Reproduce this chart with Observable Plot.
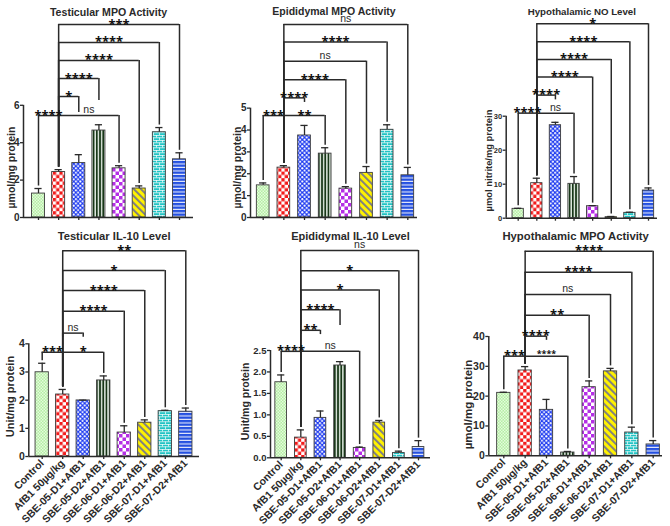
<!DOCTYPE html>
<html>
<head>
<meta charset="utf-8">
<script src="https://cdn.jsdelivr.net/npm/d3@7"></script>
<script src="https://cdn.jsdelivr.net/npm/@observablehq/plot@0.6"></script>
<style>
  html, body { margin: 0; padding: 0; background: #fff; }
  #wrap { position: relative; width: 670px; height: 526px; overflow: hidden; background: #fff; }
  #wrap svg { position: absolute; }
</style>
</head>
<body>
<svg width="0" height="0" style="position:absolute">
  <defs>
    <pattern id="pat0" width="3" height="3" patternUnits="userSpaceOnUse">
      <rect width="3" height="3" fill="#b4eea4"/>
      <rect width="1.5" height="1.5" fill="#e4fbdc"/>
      <rect x="1.5" y="1.5" width="1.5" height="1.5" fill="#e4fbdc"/>
    </pattern>
    <pattern id="pat1" width="6.6" height="6.6" patternUnits="userSpaceOnUse">
      <rect width="6.6" height="6.6" fill="#ffffff"/>
      <rect width="3.3" height="3.3" fill="#f21a1a"/>
      <rect x="3.3" y="3.3" width="3.3" height="3.3" fill="#f21a1a"/>
    </pattern>
    <pattern id="pat2" width="4.4" height="4.4" patternUnits="userSpaceOnUse">
      <rect width="4.4" height="4.4" fill="#1f3cf0"/>
      <circle cx="1.1" cy="1.1" r="1.05" fill="#ffffff"/>
      <circle cx="3.3" cy="3.3" r="1.05" fill="#ffffff"/>
    </pattern>
    <pattern id="pat3" width="3.2" height="4" patternUnits="userSpaceOnUse">
      <rect width="3.2" height="4" fill="#dfe9df"/>
      <rect width="1.7" height="4" fill="#173617"/>
    </pattern>
    <pattern id="pat4" width="7" height="7" patternUnits="userSpaceOnUse">
      <rect width="7" height="7" fill="#ffffff"/>
      <rect width="3.5" height="3.5" fill="#b52ee6"/>
      <rect x="3.5" y="3.5" width="3.5" height="3.5" fill="#b52ee6"/>
    </pattern>
    <pattern id="pat5" width="5" height="5" patternUnits="userSpaceOnUse" patternTransform="rotate(-45)">
      <rect width="5" height="5" fill="#fff200"/>
      <rect width="1.9" height="5" fill="#7c7c86"/>
    </pattern>
    <pattern id="pat6" width="6" height="5" patternUnits="userSpaceOnUse">
      <rect width="6" height="5" fill="#22c4c4"/>
      <rect y="0" width="6" height="0.7" fill="#ffffff"/>
      <rect y="2.5" width="6" height="0.7" fill="#ffffff"/>
      <rect x="0" y="0" width="0.7" height="2.5" fill="#ffffff"/>
      <rect x="3" y="2.5" width="0.7" height="2.5" fill="#ffffff"/>
    </pattern>
    <pattern id="pat7" width="4" height="3.5" patternUnits="userSpaceOnUse">
      <rect width="4" height="3.5" fill="#2450e0"/>
      <rect y="2.4" width="4" height="1" fill="#ffffff"/>
    </pattern>
  </defs>
</svg>
<div id="wrap"></div>
<script>
// ---------------- DATA ----------------
const groups = ["Control", "AfB1 50µg/kg", "SBE-05-D1+AfB1", "SBE-05-D2+AfB1",
                "SBE-06-D1+AfB1", "SBE-06-D2+AfB1", "SBE-07-D1+AfB1", "SBE-07-D2+AfB1"];

const titles = ["Testicular MPO Activity", "Epididymal MPO Activity", "Hypothalamic NO Level",
                "Testicular IL-10 Level", "Epididymal IL-10 Level", "Hypothalamic MPO Activity"];

const yTitles = ["µmol/mg protein", "µmol/mg protein", "µmol nitrite/mg protein",
                 "Unit/mg protein", "Unit/mg protein", "µmol/mg protein"];

// means and SEM per panel
const testicularMPO     = [1.28, 2.43, 2.91, 4.65, 2.63, 1.55, 4.56, 3.11];
const testicularMPOSem  = [0.27, 0.13, 0.45, 0.31, 0.14, 0.14, 0.25, 0.35];
const epididymalMPO     = [1.47, 2.28, 3.75, 2.92, 1.32, 2.04, 4.01, 1.93];
const epididymalMPOSem  = [0.11, 0.09, 0.46, 0.27, 0.09, 0.29, 0.23, 0.36];
const hypothalamicNO    = [2.75, 10.3, 27.35, 10.1, 3.53, 0.3, 1.57, 8.14];
const hypothalamicNOSem = [0.15, 1.46, 0.85, 2.15, 0.17, 0.2, 0.19, 0.76];
const testicularIL10    = [2.99, 2.2, 1.99, 2.70, 0.85, 1.2, 1.61, 1.59];
const testicularIL10Sem = [0.32, 0.18, 0.01, 0.16, 0.24, 0.10, 0.03, 0.13];
const epididymalIL10    = [1.76, 0.47, 0.93, 2.15, 0.23, 0.82, 0.11, 0.25];
const epididymalIL10Sem = [0.17, 0.18, 0.16, 0.09, 0.02, 0.05, 0.045, 0.15];
const hypothalamicMPO   = [21.1, 28.6, 15.4, 1.1, 23.0, 28.3, 7.8, 3.8];
const hypothalamicMPOSem= [0.2, 1.3, 3.5, 0.35, 2.1, 1.0, 1.8, 1.3];

const means = [testicularMPO, epididymalMPO, hypothalamicNO, testicularIL10, epididymalIL10, hypothalamicMPO];
const sems  = [testicularMPOSem, epididymalMPOSem, hypothalamicNOSem, testicularIL10Sem, epididymalIL10Sem, hypothalamicMPOSem];

const yTicks = [[0, 2, 4, 6], [0, 1, 2, 3, 4, 5], [0, 10, 20, 30], [0, 1, 2, 3, 4],
                [0, 0.5, 1, 1.5, 2, 2.5], [0, 10, 20, 30, 40]];
const yTickFormats = ["d", "d", "d", "d", ".1f", "d"];

// significance brackets: [fromGroup, toGroup, label, level (data units), short leg end (optional)]
const bracketsTestMPO = [[1,7,"***",10.32],[1,6,"****",9.36],[1,5,"****",8.40],[1,3,"****",7.43,6.26],
                         [1,2,"*",6.47,5.61],[0,1,"****",5.45],[1,4,"ns",5.45]];
const bracketsEpiMPO  = [[1,7,"ns",8.82],[1,6,"****",8.02],[1,5,"ns",7.15],[1,4,"****",6.30],
                         [1,2,"****",5.47,5.26],[0,1,"***",4.66],[1,3,"**",4.66]];
const bracketsHypNO   = [[1,7,"*",57.2],[1,6,"****",51.9],[1,5,"****",46.7],[1,4,"****",41.5],
                         [1,2,"****",36.2,34.8],[0,1,"****",30.9],[1,3,"ns",30.9]];
const bracketsTestIL  = [[1,7,"**",7.30],[1,6,"*",6.60],[1,5,"****",5.89],[1,4,"****",5.16],
                         [1,2,"ns",4.38,4.23],[0,1,"***",3.70],[1,3,"*",3.70]];
const bracketsEpiIL   = [[1,7,"ns",4.83],[1,6,"*",4.36],[1,5,"*",3.91],[1,3,"****",3.45,3.08],
                         [1,2,"**",2.97,2.87],[0,1,"****",2.48],[1,4,"ns",2.48]];
const bracketsHypMPO  = [[1,7,"****",68.6],[1,6,"****",61.5],[1,5,"ns",54.1],[1,4,"**",47.1],
                         [1,2,"****",40.1,38.7],[0,1,"***",33.4],[1,3,"****",33.4]];
const brackets = [bracketsTestMPO, bracketsEpiMPO, bracketsHypNO, bracketsTestIL, bracketsEpiIL, bracketsHypMPO];

// ---------------- LAYOUT / STYLE ----------------
const layout = [
  {left: 0,   top: 0,   w: 222, h: 226, axisLeft: 23,    axisRight: 193,   c0: 38,    c7: 179,   zeroY: 217,   unitPx: 18.7,  bw: 13,   titleSize: 10.6, ytx: 11.5,  yty: 167, ytSize: 10.5, tickFont: 10,  xLabels: false},
  {left: 222, top: 0,   w: 222, h: 226, axisLeft: 250,   axisRight: 417,   c0: 262.7, c7: 407.3, zeroY: 217,   unitPx: 21.87, bw: 12.7, titleSize: 10.5, ytx: 237,   yty: 167, ytSize: 10.5, tickFont: 10,  xLabels: false},
  {left: 444, top: 0,   w: 226, h: 226, axisLeft: 505.7, axisRight: 657,   c0: 517.7, c7: 648,   zeroY: 217.7, unitPx: 3.4,   bw: 11.3, titleSize: 9.7,  ytx: 488.5, yty: 160, ytSize: 9.4,  tickFont: 7.5, xLabels: false},
  {left: 0,   top: 224, w: 222, h: 302, axisLeft: 28.3,  axisRight: 199,   c0: 41.7,  c7: 185.3, zeroY: 456,   unitPx: 28.17, bw: 13.3, titleSize: 11.2, ytx: 10,    yty: 396, ytSize: 11,   tickFont: 10.5, xLabels: true},
  {left: 222, top: 224, w: 222, h: 302, axisLeft: 270,   axisRight: 430,   c0: 280.7, c7: 418,   zeroY: 457.3, unitPx: 42.93, bw: 11.7, titleSize: 11,   ytx: 245,   yty: 401, ytSize: 10.5, tickFont: 9.5, xLabels: true},
  {left: 444, top: 224, w: 226, h: 302, axisLeft: 488.3, axisRight: 662,   c0: 503.3, c7: 652.7, zeroY: 455.3, unitPx: 2.983, bw: 13.3, titleSize: 11.3, ytx: 467.5, yty: 404, ytSize: 11.5, tickFont: 10.5, xLabels: true}
];
const smallStarLabels = {5: [6]};   // panel -> bracket indices drawn with a smaller font
const INK = "#2a2a2a";
const FONT = "'Liberation Sans', Arial, sans-serif";
const STAR_FONT = "'Noto Sans', 'Liberation Sans', sans-serif";

function panel(k) {
  const L = layout[k];
  const step = (L.c7 - L.c0) / 7;
  const xDom = [(L.axisLeft - L.c0) / step, 7 + (L.axisRight - L.c7) / step];
  const hw = L.bw / (2 * step), cap = 3.6 / step;
  const yTop = (L.zeroY - L.top) / L.unitPx;
  const rows = groups.map((g, i) => ({i, g, mean: means[k][i], err: means[k][i] + sems[k][i], pat: `url(#pat${i})`}));
  const small = smallStarLabels[k] || [];
  const br = brackets[k].map(([a, b, label, level, leg], j) => ({
    a, b, label, level, leg, mid: (a + b) / 2, errA: rows[a].err, errB: rows[b].err, small: small.includes(j)
  }));
  const longB = br.filter(d => d.leg == null), shortB = br.filter(d => d.leg != null);
  const stars = br.filter(d => d.label !== "ns" && !d.small), starsSmall = br.filter(d => d.small), nsB = br.filter(d => d.label === "ns");
  const tickMax = d3.max(yTicks[k]);
  const fmt = d3.format(yTickFormats[k]);
  const line = {stroke: INK, strokeWidth: 1.5};

  const svg = Plot.plot({
    width: L.w, height: L.h,
    marginLeft: L.axisLeft - L.left,
    marginRight: L.left + L.w - L.axisRight,
    marginTop: 0,
    marginBottom: L.top + L.h - L.zeroY,
    x: {type: "linear", domain: xDom},
    y: {type: "linear", domain: [0, yTop]},
    color: {type: "identity"},
    style: {background: "transparent", overflow: "visible", fontFamily: FONT, color: INK},
    marks: [
      Plot.rect(rows, {x1: d => d.i - hw, x2: d => d.i + hw, y1: 0, y2: "mean", fill: "pat", stroke: "#3c3c3c", strokeWidth: 0.9}),
      Plot.ruleX(rows, {x: "i", y1: "mean", y2: "err", stroke: INK, strokeWidth: 1.3}),
      Plot.ruleY(rows, {y: "err", x1: d => d.i - cap, x2: d => d.i + cap, stroke: INK, strokeWidth: 1.3}),
      // brackets
      Plot.ruleY(br, {y: "level", x1: "a", x2: "b", ...line}),
      Plot.ruleX(longB, {x: "a", y1: "level", y2: "errA", insetBottom: 2.5, ...line}),
      Plot.ruleX(longB, {x: "b", y1: "level", y2: "errB", insetBottom: 2.5, ...line}),
      Plot.ruleX(shortB, {x: "a", y1: "level", y2: "leg", ...line}),
      Plot.ruleX(shortB, {x: "b", y1: "level", y2: "leg", ...line}),
      Plot.text(stars, {x: "mid", y: "level", text: "label", lineAnchor: "bottom", dy: 4,
        fontFamily: STAR_FONT, fontWeight: "bold", fontSize: 13, fill: "#111", stroke: "none"}),
      Plot.text(starsSmall, {x: "mid", y: "level", text: "label", lineAnchor: "bottom", dy: 1,
        fontFamily: STAR_FONT, fontWeight: "bold", fontSize: 9, fill: "#111", stroke: "none"}),
      Plot.text(nsB, {x: "mid", y: "level", text: "label", lineAnchor: "bottom", dy: -2.5,
        fontFamily: FONT, fontSize: 10.5, fill: INK}),
      // axes
      Plot.ruleY([0], line),
      Plot.ruleX([xDom[0]], {y1: 0, y2: tickMax, ...line}),
      Plot.axisY({ticks: yTicks[k], tickFormat: fmt, tickSize: 3, tickPadding: 1, fontSize: L.tickFont,
        fontWeight: "bold", stroke: INK, strokeWidth: 1.3, fill: INK, label: null}),
      L.xLabels
        ? Plot.axisX({ticks: d3.range(8), tickFormat: i => groups[i], tickSize: 3, tickPadding: 2, tickRotate: -45,
            fontSize: 10.5, fontWeight: "bold", stroke: INK, strokeWidth: 1.3, fill: INK, label: null})
        : Plot.axisX({ticks: d3.range(8), tickFormat: () => "", tickSize: 3, stroke: INK, strokeWidth: 1.3, label: null}),
      // titles
      Plot.text([titles[k]], {text: d => d, frameAnchor: "top", textAnchor: "middle", dy: 7.5, fontSize: L.titleSize,
        fontWeight: "bold", fill: INK}),
      Plot.text([yTitles[k]], {text: d => d, frameAnchor: "left", textAnchor: "middle", y: () => (L.zeroY - L.yty) / L.unitPx,
        dx: L.ytx - L.axisLeft, rotate: -90, fontSize: L.ytSize, fontWeight: "bold", fill: INK})
    ]
  });
  svg.style.left = L.left + "px";
  svg.style.top = L.top + "px";
  return svg;
}

const wrap = document.getElementById("wrap");
for (let k = 0; k < 6; k++) wrap.appendChild(panel(k));
</script>
</body>
</html>
